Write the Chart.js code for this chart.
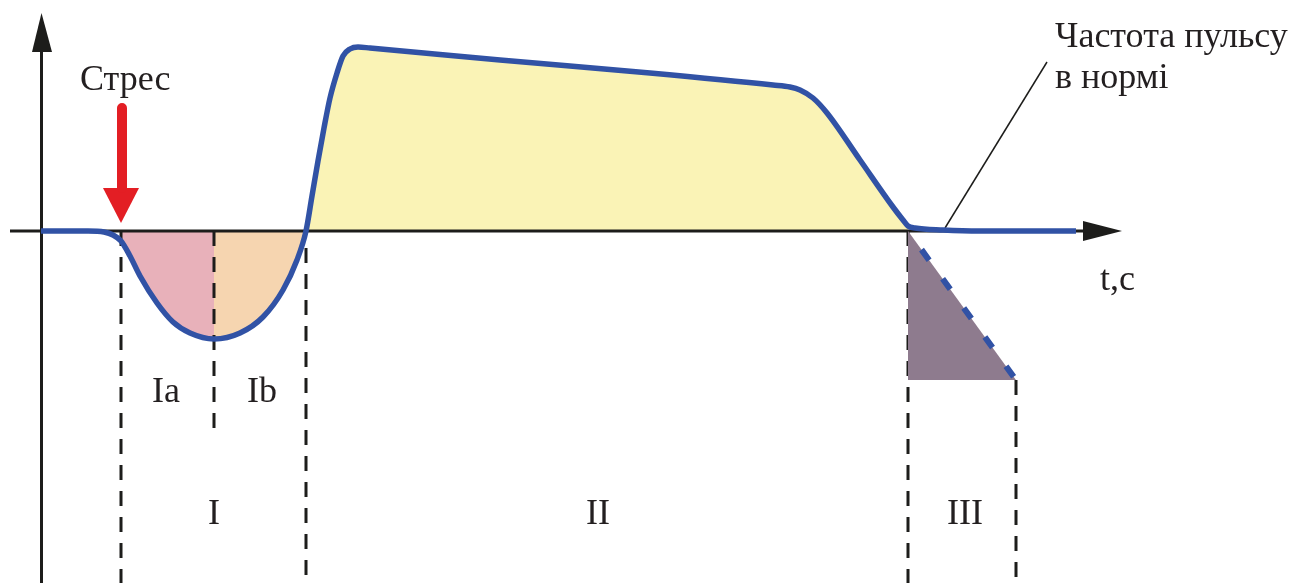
<!DOCTYPE html>
<html>
<head>
<meta charset="utf-8">
<title>Частота пульсу</title>
<script src="https://cdn.jsdelivr.net/npm/chart.js@4.4.1/dist/chart.umd.min.js"></script>
<style>
  html, body { margin: 0; padding: 0; background: #fff; overflow: hidden; }
  #wrap { width: 1311px; height: 583px; }
</style>
</head>
<body>
<div id="wrap"><canvas id="pulse"></canvas></div>
<script>
// Pulse curve (time, deviation from the norm)
const curveT = [41, 88, 104, 113, 121, 130, 140, 157, 173, 190, 214, 240, 263, 283, 297, 306,
  312, 318, 324, 330, 337, 343, 350, 358, 370, 500, 650, 773, 790, 800, 813, 827, 860, 893, 903, 908,
  915, 943, 980, 1076];
const curveV = [0, 0, -1, -4, -10, -25, -45, -72, -91, -102, -108, -102, -86, -59, -29, 0,
  35, 70, 103, 133, 158, 175, 182, 184, 183, 171, 158, 146, 144, 141, 133, 118, 71, 24, 11, 5,
  3, 1, 0, 0];

// Phase borders: stress onset, Ia/Ib, end of I, end of II, end of III
const phaseT = [121, 214, 306, 908, 1016];
const phaseColors = ["#e8b1ba", "#f6d5b0", "#faf3b6"];
const recoveryLow = -149;   // depth of phase III triangle
const dividerEnd = [-352, -199, -352, -352, -352];
const dividerStart = [0, 0, -17, 0, recoveryLow];

// Stress arrow
const stressT = 121;
const stressTop = 123;
const stressHeadBase = 43;
const stressTip = 8;

// Text labels
const labels = [
  { text: "Стрес", x: 80, y: 141, align: "left" },
  { text: "Частота пульсу", x: 1055, y: 184, align: "left" },
  { text: "в нормі", x: 1055, y: 143, align: "left" },
  { text: "t,c", x: 1100, y: -59, align: "left" },
  { text: "Ia", x: 166, y: -171, align: "center" },
  { text: "Ib", x: 262, y: -171, align: "center" },
  { text: "I", x: 214, y: -293, align: "center" },
  { text: "II", x: 598, y: -293, align: "center" },
  { text: "III", x: 965, y: -293, align: "center" },
];

const BLUE = "#3152a5";
const INK = "#1d1d1b";

const curve = curveT.map((t, i) => ({ x: t, y: curveV[i] }));
const slice = (a, b) => curve.filter((p) => p.x >= a && p.x <= b);

const datasets = [];

// main curve on top
datasets.push({
  data: curve,
  borderColor: BLUE,
  borderWidth: 5.5,
  cubicInterpolationMode: "monotone",
  fill: false,
  order: 0,
});

// coloured phase areas under the curve
for (let i = 0; i < 3; i++) {
  datasets.push({
    data: slice(phaseT[i], phaseT[i + 1]),
    borderWidth: 0,
    borderColor: "rgba(0,0,0,0)",
    backgroundColor: phaseColors[i],
    cubicInterpolationMode: "monotone",
    fill: "origin",
    order: 20,
  });
}

// phase III recovery triangle: dashed diagonal filled to the floor line below it
datasets.push({
  data: [{ x: phaseT[3], y: 0 }, { x: phaseT[4], y: recoveryLow }],
  borderColor: BLUE,
  borderWidth: 6,
  borderDash: [13, 23],
  borderDashOffset: 13,
  backgroundColor: "#8e7b8e",
  fill: "+1",
  order: 1,
});
datasets.push({
  data: [{ x: phaseT[3], y: recoveryLow }, { x: phaseT[4], y: recoveryLow }],
  borderWidth: 0,
  borderColor: "rgba(0,0,0,0)",
  fill: false,
  order: 30,
});

// dashed phase dividers
phaseT.forEach((t, i) => {
  datasets.push({
    data: [{ x: t, y: dividerStart[i] }, { x: t, y: dividerEnd[i] }],
    borderColor: INK,
    borderWidth: 3,
    borderDash: [15, 11],
    fill: false,
    order: 5,
  });
});

// axes
datasets.push({
  data: [{ x: 41.5, y: -352 }, { x: 41.5, y: 181 }],
  borderColor: INK, borderWidth: 3, fill: false, order: 10,
});
datasets.push({
  data: [{ x: 10, y: 0 }, { x: 1090, y: 0 }],
  borderColor: INK, borderWidth: 3, fill: false, order: 10,
});
// arrow heads (upper edge filled to lower edge)
datasets.push({
  data: [{ x: 32, y: 179 }, { x: 41.5, y: 218 }, { x: 52, y: 179 }],
  borderWidth: 0, borderColor: "rgba(0,0,0,0)", backgroundColor: INK, fill: "+1", order: 10,
});
datasets.push({
  data: [{ x: 32, y: 179 }, { x: 52, y: 179 }],
  borderWidth: 0, borderColor: "rgba(0,0,0,0)", fill: false, order: 30,
});
datasets.push({
  data: [{ x: 1083, y: 10 }, { x: 1122, y: 0 }],
  borderWidth: 0, borderColor: "rgba(0,0,0,0)", backgroundColor: INK, fill: "+1", order: 10,
});
datasets.push({
  data: [{ x: 1083, y: -10 }, { x: 1122, y: 0 }],
  borderWidth: 0, borderColor: "rgba(0,0,0,0)", fill: false, order: 30,
});

// leader line to the "norm" caption
datasets.push({
  data: [{ x: 1047, y: 169 }, { x: 945, y: 3 }],
  borderColor: INK, borderWidth: 1.5, fill: false, order: 2,
});

// red stress arrow
datasets.push({
  data: [{ x: stressT + 1, y: stressTop }, { x: stressT + 1, y: stressHeadBase }],
  borderColor: "#e31e24", borderWidth: 10, borderCapStyle: "round", fill: false, order: 3,
});
datasets.push({
  data: [{ x: stressT - 18, y: stressHeadBase }, { x: stressT + 18, y: stressHeadBase }],
  borderWidth: 0, borderColor: "rgba(0,0,0,0)", backgroundColor: "#e31e24", fill: "+1", order: 3,
});
datasets.push({
  data: [{ x: stressT - 18, y: stressHeadBase }, { x: stressT, y: stressTip }, { x: stressT + 18, y: stressHeadBase }],
  borderWidth: 0, borderColor: "rgba(0,0,0,0)", fill: false, order: 30,
});

// captions drawn through the chart scales
const textPlugin = {
  id: "captions",
  afterDatasetsDraw(chart) {
    const { ctx, scales } = chart;
    ctx.save();
    ctx.font = '36px "Liberation Serif"';
    ctx.fillStyle = "#231f20";
    ctx.textBaseline = "alphabetic";
    labels.forEach((l) => {
      ctx.textAlign = l.align;
      ctx.fillText(l.text, scales.x.getPixelForValue(l.x), scales.y.getPixelForValue(l.y));
    });
    ctx.restore();
  },
};

new Chart(document.getElementById("pulse"), {
  type: "line",
  data: { datasets },
  options: {
    responsive: true,
    maintainAspectRatio: false,
    animation: false,
    events: [],
    layout: { padding: 0 },
    elements: {
      point: { radius: 0, hoverRadius: 0 },
      line: { tension: 0, borderCapStyle: "butt", borderJoinStyle: "round" },
    },
    plugins: {
      legend: { display: false },
      tooltip: { enabled: false },
      filler: { propagate: false },
    },
    scales: {
      x: { type: "linear", min: 0, max: 1311, display: false },
      y: { type: "linear", min: -352, max: 231, display: false },
    },
  },
  plugins: [textPlugin],
});
</script>
</body>
</html>
